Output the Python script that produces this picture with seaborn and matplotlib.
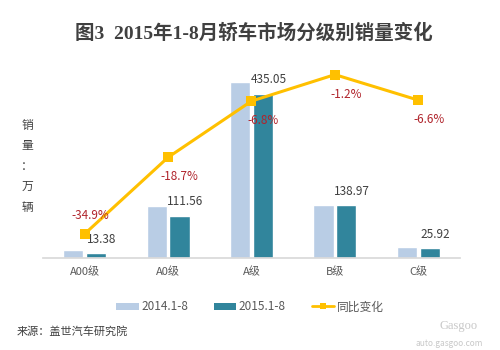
import numpy as np
import pandas as pd
import matplotlib
matplotlib.use("Agg")
import matplotlib.pyplot as plt
import seaborn as sns
from matplotlib.patches import Patch
from matplotlib.lines import Line2D

# 数据
categories = ["A00级", "A0级", "A级", "B级", "C级"]
sales_2014 = [20.55, 137.22, 466.79, 140.66, 27.75]
sales_2015 = [13.38, 111.56, 435.05, 138.97, 25.92]
growth = [-34.9, -18.7, -6.8, -1.2, -6.6]
series_names = ["2014.1-8", "2015.1-8"]
line_name = "同比变化"

color_2014 = "#B9CDE5"
color_2015 = "#31859C"
color_line = "#FFC000"
color_pct = "#B0242C"
color_text = "#404040"


def main():
    sns.set_theme(style="white")
    plt.rcParams["font.family"] = ["Noto Sans CJK SC", "DejaVu Sans"]

    df = pd.DataFrame({
        "级别": categories * 2,
        "销量": sales_2014 + sales_2015,
        "年份": [series_names[0]] * 5 + [series_names[1]] * 5,
    })

    fig = plt.figure(figsize=(5, 3.5), dpi=100)
    ax = fig.add_axes([0.086, 0.263, 0.834, 0.54])

    sns.barplot(data=df, x="级别", y="销量", hue="年份", order=categories,
                palette=[color_2014, color_2015], width=0.55, gap=0.12,
                saturation=1, legend=False, ax=ax)
    ax.set_ylim(0, 500)
    ax.set_xlim(-0.5, len(categories) - 0.5)
    ax.set_xlabel("")
    ax.set_ylabel("")
    ax.set_yticks([])
    for s in ["top", "left", "right"]:
        ax.spines[s].set_visible(False)
    ax.spines["bottom"].set_color("#D9D9D9")
    ax.tick_params(axis="x", length=0, pad=6, labelsize=8, labelcolor="#595959")

    # 2015 数据标签
    for i, v in enumerate(sales_2015):
        ax.annotate(f"{v:.2f}", (i + 0.14, v), xytext=(4, 10),
                    textcoords="offset points", ha="center", va="center",
                    fontsize=8.5, color=color_text)

    # 同比变化折线
    ax2 = ax.twinx()
    x_pos = np.arange(len(categories))
    sns.lineplot(x=x_pos, y=growth, color=color_line, linewidth=2.2,
                 marker="s", markersize=7, markeredgewidth=0, ax=ax2)
    ax2.set_ylim(-40, 0)
    ax2.set_yticks([])
    ax2.set_ylabel("")
    for s in ["top", "left", "right", "bottom"]:
        ax2.spines[s].set_visible(False)

    for i, g in enumerate(growth):
        dy = 13 if i == 0 else -14
        ax2.annotate(f"{g:.1f}%", (i, g), xytext=(8 if i > 0 else 4, dy),
                     textcoords="offset points", ha="center", va="center",
                     fontsize=8.5, color=color_pct)

    # 标题与注释
    fig.text(0.508, 0.905, "图3  2015年1-8月轿车市场分级别销量变化",
             ha="center", va="center", fontsize=14, fontweight="bold",
             color=color_text, family=["Liberation Serif", "Noto Sans CJK SC"])
    fig.text(0.054, 0.525, "销\n量\n：\n万\n辆", ha="center", va="center",
             fontsize=8.5, color=color_text, linespacing=1.75)
    fig.text(0.034, 0.052, "来源：盖世汽车研究院", ha="left", va="center",
             fontsize=8, style="italic", color=color_text)
    fig.text(0.955, 0.068, "Gasgoo", ha="right", va="center",
             fontsize=9, color="#C8C8C8", family=["Liberation Serif"])
    fig.text(0.965, 0.02, "auto.gasgoo.com", ha="right", va="center",
             fontsize=6, color="#C8C8C8")

    handles = [
        Patch(facecolor=color_2014, edgecolor="none"),
        Patch(facecolor=color_2015, edgecolor="none"),
        Line2D([0], [0], color=color_line, linewidth=2, marker="s",
               markersize=5, markeredgewidth=0),
    ]
    fig.legend(handles, series_names + [line_name], loc="center",
               bbox_to_anchor=(0.5, 0.123), ncol=3, frameon=False,
               fontsize=8.5, handlelength=1.9, handleheight=0.6,
               handletextpad=0.2, columnspacing=2.2, labelcolor="#595959")

    fig.savefig("out.png", dpi=100)
    plt.close(fig)


if __name__ == "__main__":
    main()
